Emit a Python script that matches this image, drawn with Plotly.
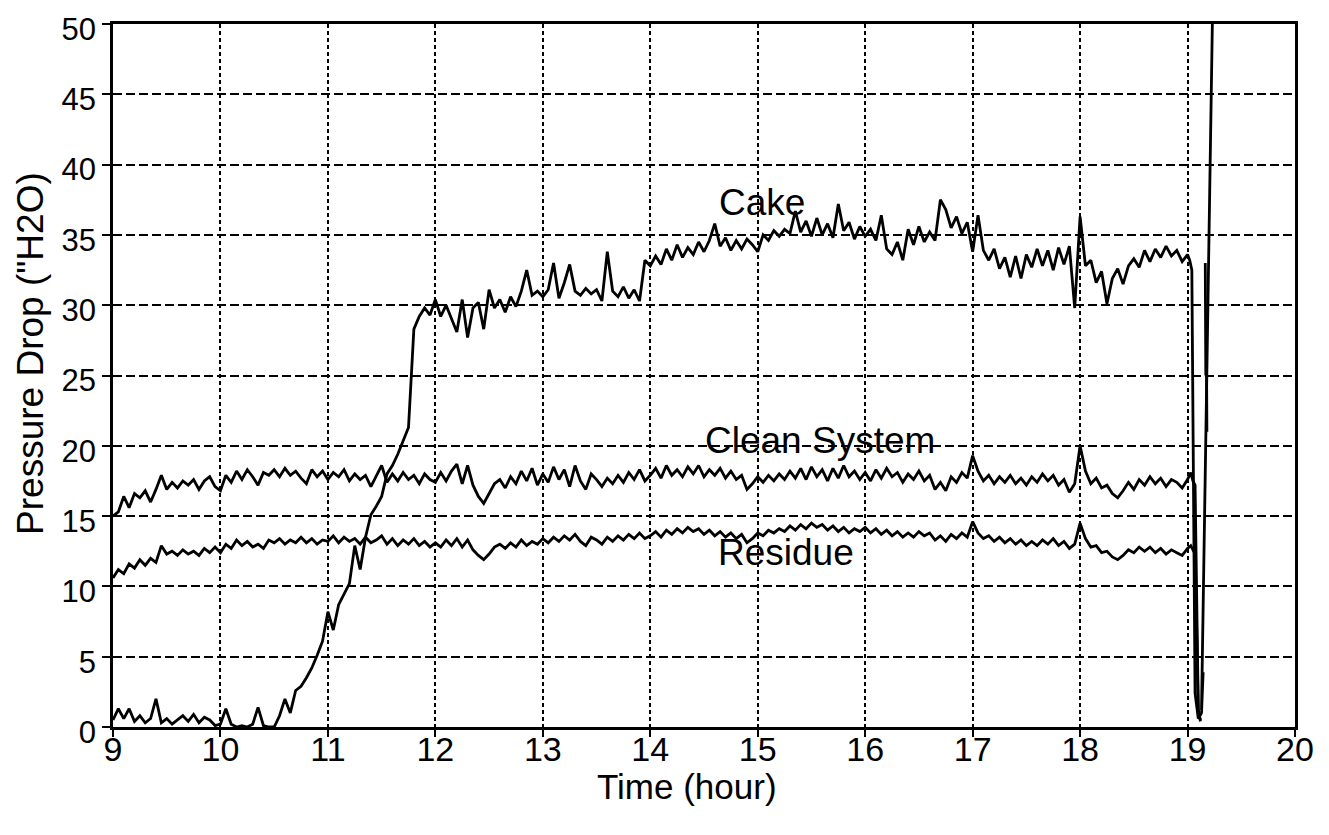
import numpy as np
import plotly.graph_objects as go

# time grid (hours) for the main record, 0.05 h steps from 9.00 to 19.00
time_main = np.round(np.arange(9.0, 19.0001, 0.05), 2)

clean_system = [
    15.0, 15.3, 16.4, 15.6, 16.6, 16.3, 16.8, 16.0, 16.9, 17.9,
    16.9, 17.4, 17.0, 17.5, 17.2, 17.6, 16.9, 17.5, 17.8, 17.1,
    16.8, 17.9, 17.4, 18.2, 17.6, 18.3, 17.8, 17.2, 18.1, 17.9,
    18.3, 17.8, 18.4, 17.9, 18.2, 17.7, 17.3, 18.3, 17.8, 18.2,
    17.6, 18.1, 17.8, 18.3, 17.5, 18.0, 17.6, 17.9, 17.1, 17.8,
    18.6, 17.4, 18.0, 17.5, 18.1, 17.6, 17.9, 17.3, 18.0, 17.6,
    17.4, 18.1, 17.5, 18.2, 18.7, 17.3, 18.6, 17.2, 16.4, 15.9,
    16.6, 17.3, 17.6, 17.0, 17.8, 17.3, 18.2, 17.5, 18.4, 17.2,
    18.0, 17.4, 18.5, 17.6, 18.3, 17.1, 18.6, 17.5, 16.9, 18.0,
    17.6, 17.1, 17.7, 17.3, 17.9, 17.4, 18.1, 17.6, 18.3, 17.5,
    17.9, 18.4, 17.7, 18.6, 17.9, 18.3, 17.8, 18.5, 18.0, 18.6,
    17.8, 18.3, 17.9, 18.4, 17.7, 18.2, 17.6, 17.9, 16.9, 17.3,
    17.8, 17.4, 17.9, 17.5, 18.0, 17.6, 18.2, 17.7, 18.4, 17.6,
    18.5, 17.8, 18.3, 17.5, 18.4, 17.7, 18.6, 17.8, 18.2, 17.6,
    18.1, 17.5, 18.3, 17.7, 18.4, 17.8, 18.1, 17.4, 18.0, 17.6,
    18.2, 17.5, 17.9, 16.9, 17.4, 16.8, 17.8, 17.4, 18.1, 17.7,
    19.3, 18.2, 17.5, 17.9, 17.3, 17.8, 17.4, 17.9, 17.3, 17.7,
    17.2, 17.8, 17.4, 18.0, 17.5, 17.9, 17.2, 17.6, 16.7, 17.3,
    20.0, 18.2, 17.3, 17.7, 17.0, 17.2, 16.6, 16.3, 16.8, 17.4,
    16.9, 17.6, 17.2, 17.8, 17.3, 17.7, 17.1, 17.6, 17.4, 17.0,
    17.6,
]

residue = [
    10.6, 11.2, 10.9, 11.6, 11.3, 11.9, 11.5, 12.0, 11.7, 12.9,
    12.3, 12.5, 12.2, 12.6, 12.3, 12.5, 12.2, 12.7, 12.4, 12.8,
    12.4, 13.0, 12.7, 13.3, 12.9, 13.2, 12.8, 13.0, 12.7, 13.3,
    13.1, 13.4, 13.0, 13.3, 13.1, 13.5, 13.1, 13.4, 13.0, 13.3,
    13.2, 13.6, 13.1, 13.5, 13.2, 13.4, 13.0, 13.5, 13.1, 13.3,
    13.6, 13.0, 13.4, 12.9, 13.3, 13.0, 13.4, 12.9, 13.2, 12.8,
    13.1, 12.8, 13.3, 12.9, 13.4, 12.8, 13.3, 12.6, 12.2, 11.9,
    12.3, 12.8, 13.0, 12.7, 13.1, 12.8, 13.3, 12.9, 13.2, 13.0,
    13.4, 13.1, 13.5, 13.2, 13.6, 13.3, 13.7, 13.2, 12.9, 13.5,
    13.3, 13.0, 13.5, 13.2, 13.6, 13.3, 13.7, 13.4, 13.8, 13.4,
    13.6, 13.9, 13.5, 14.0, 13.7, 14.1, 13.8, 14.2, 13.9, 14.1,
    13.7, 14.0, 13.6, 13.9, 13.5, 13.8, 13.4, 13.7, 13.1, 13.4,
    13.8, 13.6, 14.0, 13.8, 14.1, 13.9, 14.3, 14.0, 14.4, 14.1,
    14.5, 14.2, 14.4, 14.0, 14.3, 13.9, 14.2, 13.8, 14.1, 13.9,
    14.2, 13.8, 14.1, 13.7, 14.0, 13.6, 13.9, 13.5, 13.8, 13.5,
    13.9, 13.6, 13.8, 13.3, 13.6, 13.2, 13.7, 13.4, 13.8, 13.5,
    14.6, 13.8, 13.4, 13.6, 13.2, 13.5, 13.1, 13.4, 13.0, 13.3,
    12.9, 13.2, 12.9, 13.3, 13.0, 13.4, 12.9, 13.2, 12.7, 13.0,
    14.5, 13.4, 12.8, 12.9, 12.4, 12.5, 12.1, 11.9, 12.2, 12.6,
    12.4, 12.8, 12.5, 12.8, 12.4, 12.7, 12.3, 12.6, 12.4, 12.2,
    12.7,
]

cake = [
    0.5, 1.3, 0.6, 1.3, 0.4, 0.8, 0.3, 0.6, 2.0, 0.3,
    0.6, 0.2, 0.5, 0.8, 0.4, 0.9, 0.3, 0.7, 0.5, 0.1,
    0.2, 1.3, 0.2, 0.0, 0.1, 0.0, 0.2, 1.4, 0.1, 0.0,
    0.0, 0.8, 2.0, 1.0, 2.6, 2.9, 3.5, 4.2, 5.1, 6.1,
    8.2, 6.9, 8.7, 9.4, 10.2, 12.9, 11.2, 13.5, 15.1, 15.7,
    16.4, 18.0, 18.6, 19.4, 20.4, 21.3, 28.3, 29.2, 29.8, 29.3,
    30.4, 29.2, 30.0, 29.0, 28.1, 30.4, 27.7, 29.8, 30.2, 28.3,
    31.1, 29.8, 30.4, 29.5, 30.6, 29.9, 31.0, 32.5, 30.7, 31.0,
    30.6, 31.1, 33.0, 30.5, 31.6, 32.9, 31.0, 30.7, 31.2, 30.8,
    31.1, 30.3, 33.8, 31.0, 30.6, 31.3, 30.5, 31.1, 30.3, 33.2,
    32.8, 33.5, 32.9, 34.0, 33.2, 34.3, 33.4, 34.1, 33.6, 34.5,
    33.8, 34.6, 35.8, 34.2, 34.8, 33.9, 34.6, 34.0, 34.7, 34.3,
    33.8, 35.0, 34.6, 35.3, 34.9, 35.4, 35.1, 36.7, 35.2, 36.0,
    34.9, 36.2, 35.0, 35.8, 34.8, 37.2, 35.3, 35.9, 34.7, 35.6,
    34.9, 35.4, 34.6, 36.4, 34.0, 33.6, 34.5, 33.2, 35.4, 34.3,
    35.6, 34.5, 35.2, 34.6, 37.5, 36.8, 35.5, 36.3, 35.1, 35.9,
    33.8, 36.4, 33.9, 33.2, 34.0, 32.6, 33.4, 32.0, 33.5, 31.9,
    33.6, 32.7, 34.0, 32.8, 33.9, 32.5, 34.1, 32.9, 34.2, 29.8,
    36.3, 32.8, 33.2, 31.6, 32.4, 30.1, 31.9, 32.6, 31.5, 32.8,
    33.3, 32.7, 33.9, 33.1, 34.0, 33.4, 34.2, 33.5, 33.9, 33.1,
    33.6,
]

# end of run: shutdown / restart transients (irregular times)
clean_tail_t = [19.03, 19.05, 19.07, 19.10, 19.12]
clean_tail_v = [18.1, 17.5, 17.2, 1.2, 0.4]
residue_tail_t = [19.03, 19.05, 19.07, 19.10, 19.12]
residue_tail_v = [12.9, 12.6, 12.8, 1.0, 0.5]
cake_tail_t = [19.02, 19.04, 19.07, 19.10, 19.13, 19.145, 19.13, 19.235,
               None, 19.165, 19.17, 19.172, 19.178, 19.18]
cake_tail_v = [33.2, 32.5, 2.4, 0.6, 1.0, 3.9, 1.2, 52.0,
               None, 33.0, 25.0, 28.5, 24.0, 21.0]

x_ticks = [9, 10, 11, 12, 13, 14, 15, 16, 17, 18, 19, 20]
y_ticks = [0, 5, 10, 15, 20, 25, 30, 35, 40, 45, 50]

labels = ["Cake", "Clean System", "Residue"]
label_x = [15.04, 15.58, 15.26]
label_y = [37.3, 20.4, 12.4]

x_title = "Time (hour)"
y_title = 'Pressure Drop ("H2O)'

FONT = "Liberation Sans, Arial, Helvetica, sans-serif"

fig = go.Figure()
series = [
    (list(time_main) + clean_tail_t, clean_system + clean_tail_v),
    (list(time_main) + residue_tail_t, residue + residue_tail_v),
    (list(time_main) + cake_tail_t, cake + cake_tail_v),
]
for xs, ys in series:
    fig.add_trace(go.Scatter(
        x=xs, y=ys, mode="lines",
        line=dict(color="black", width=2.8),
        connectgaps=False, showlegend=False, hoverinfo="skip",
    ))

for txt, xa, ya in zip(labels, label_x, label_y):
    fig.add_annotation(x=xa, y=ya, text=txt, showarrow=False,
                       font=dict(family=FONT, size=37, color="black"))

# axis titles placed as paper annotations for exact positioning
fig.add_annotation(xref="paper", yref="paper", x=0.4856, y=-0.084,
                   text=x_title, showarrow=False, yanchor="middle",
                   font=dict(family=FONT, size=35, color="black"))
fig.add_annotation(xref="paper", yref="paper", x=-0.0703, y=0.532,
                   text=y_title, showarrow=False, textangle=-90,
                   xanchor="center", yanchor="middle",
                   font=dict(family=FONT, size=37, color="black"))

fig.update_layout(
    width=1329, height=835,
    margin=dict(l=105, r=42, t=16, b=116),
    paper_bgcolor="white", plot_bgcolor="white",
    font=dict(family=FONT, color="black"),
)
fig.update_xaxes(
    range=[9, 20], tickvals=x_ticks, ticktext=[str(v) for v in x_ticks],
    showline=True, linecolor="black", linewidth=2.5, mirror=True,
    ticks="outside", ticklen=7, tickwidth=2, tickcolor="black",
    tickfont=dict(family=FONT, size=34, color="black"),
    ticklabelstandoff=-17, ticklabeloverflow="allow",
    showgrid=True, gridcolor="black", gridwidth=2, griddash="4px,3px",
    zeroline=False, automargin=False,
)
fig.update_yaxes(
    range=[0, 50], tickvals=y_ticks, ticktext=[str(v) for v in y_ticks],
    showline=True, linecolor="black", linewidth=2.5, mirror=True,
    ticks="outside", ticklen=8, tickwidth=2, tickcolor="black",
    tickfont=dict(family=FONT, size=31, color="black"),
    ticklabelshift=5, ticklabeloverflow="allow",
    showgrid=True, gridcolor="black", gridwidth=2, griddash="9px,4px",
    zeroline=False, automargin=False,
)

fig.write_html("out.html")
